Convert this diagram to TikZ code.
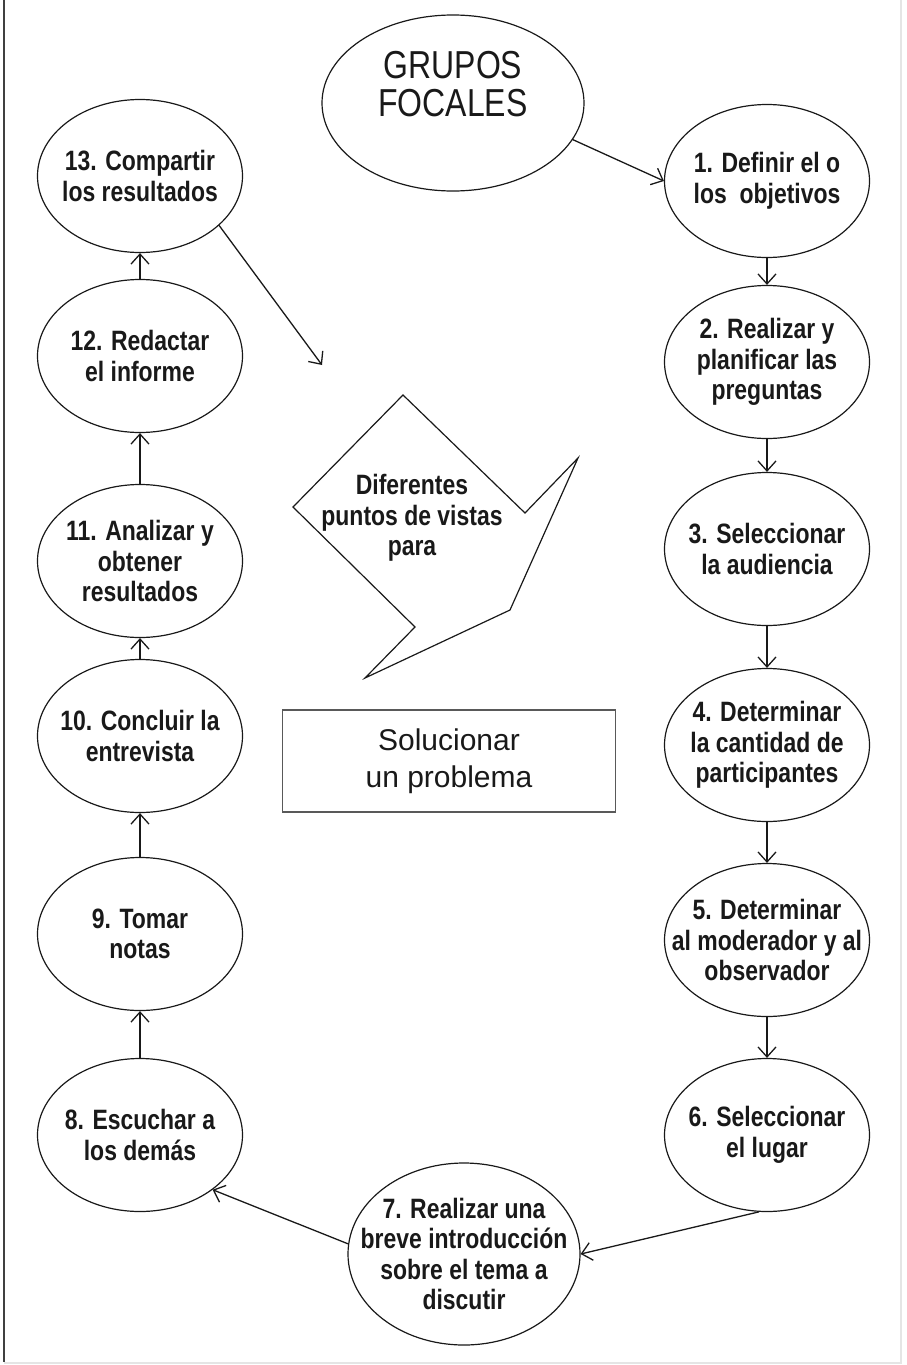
\documentclass[tikz,border=0pt]{standalone}
\usepackage{fontspec}
\setmainfont{Liberation Sans}
\newfontfamily\narrowfont{Liberation Sans}[FakeStretch=0.82]
\usetikzlibrary{shapes.geometric, arrows.meta}
\begin{document}
\begin{tikzpicture}[x=1pt, y=-1pt, color=black!90, line width=1.2pt,
	texto/.style={align=center, font=\narrowfont\bfseries\fontsize{28}{30.5}\selectfont},
	paso/.style={texto, draw, ellipse, minimum width=205pt, minimum height=153pt, inner sep=-24pt},
	flecha/.style={-{Straight Barb[length=10pt, width=18pt]}, line width=1.3pt}]
	\useasboundingbox (0,0) rectangle (906,1365);
	\draw[line width=2pt, black!75] (4,0) -- (4,1362);
	\draw[line width=1.5pt, black!10] (4,1363) -- (901,1363) -- (901,0);
	\node[draw, ellipse, minimum width=262pt, minimum height=176pt] (grupos) at (453,103) {};
	\node[align=center, font=\narrowfont\fontsize{39}{38}\selectfont] (gruposText) at (453,84) {GRUPOS\\FOCALES};
	\node[paso] (p1) at (767,181) {1. Definir el o\\los\ \ objetivos};
	\node[paso] (p2) at (767,362) {2. Realizar y\\planificar las\\preguntas};
	\node[paso] (p3) at (767,549) {3. Seleccionar\\la audiencia};
	\node[paso] (p4) at (767,745) {4. Determinar\\la cantidad de\\participantes};
	\node[paso] (p5) at (767,940) {5. Determinar\\al moderador y al\\observador};
	\node[paso] (p6) at (767,1135) {6. Seleccionar\\el lugar};
	\node[paso, minimum width=232pt, minimum height=182pt] (p7) at (464,1254) {7. Realizar una\\breve introducción\\sobre el tema a\\discutir};
	\node[paso] (p8) at (140,1135) {8. Escuchar a\\los demás};
	\node[paso] (p9) at (140,934) {9. Tomar\\notas};
	\node[paso] (p10) at (140,736) {10. Concluir la\\entrevista};
	\node[paso] (p11) at (140,561) {11. Analizar y\\obtener\\resultados};
	\node[paso] (p12) at (140,356) {12. Redactar\\el informe};
	\node[paso] (p13) at (140,176) {13. Compartir\\los resultados};
	\draw (403,395) -- (525,513) -- (578,458) -- (510,610) -- (365,678) -- (415,627) -- (293,507) -- cycle;
	\node[texto] (vistas) at (412,518) {Diferentes\\puntos de vistas\\para};
	\node[draw=black!65, minimum width=333pt, minimum height=102pt, align=center, font=\fontsize{30}{37}\selectfont] (problema) at (449,761) {Solucionar\\un problema};
	\coordinate (fin) at (322,365);
	\draw[flecha] (grupos.-17) -- (p1.west);
	\draw[flecha] (p1.south) -- (p2.north);
	\draw[flecha] (p2.south) -- (p3.north);
	\draw[flecha] (p3.south) -- (p4.north);
	\draw[flecha] (p4.south) -- (p5.north);
	\draw[flecha] (p5.south) -- (p6.north);
	\draw[flecha] (p6.-96) -- (p7.east);
	\draw[flecha] (p7.175) -- (p8.-37);
	\draw[flecha] (p8.north) -- (p9.south);
	\draw[flecha] (p9.north) -- (p10.south);
	\draw[flecha] (p10.north) -- (p11.south);
	\draw[flecha] (p11.north) -- (p12.south);
	\draw[flecha] (p12.north) -- (p13.south);
	\draw[flecha] (p13.-32) -- (fin);
\end{tikzpicture}
\end{document}
